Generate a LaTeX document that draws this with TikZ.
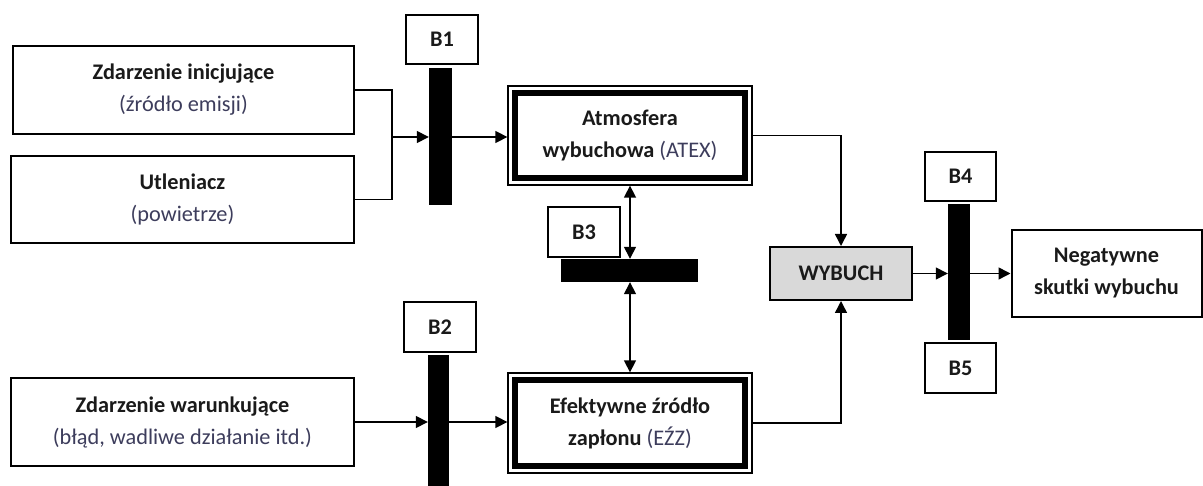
\documentclass[tikz,border=0pt]{standalone}
\usepackage{fontspec}
\setmainfont{Carlito}
\usetikzlibrary{arrows.meta}
\definecolor{ink}{HTML}{1A1A1A}
\definecolor{paren}{HTML}{3D3D5C}
\definecolor{wybfill}{HTML}{D9D9D9}
\newcommand{\pr}[1]{{\color{paren}\mdseries #1}}
\begin{document}
\begin{tikzpicture}[x=1pt,y=-1pt,
  txt/.style={font=\fontsize{22.3}{32}\selectfont\bfseries, text=ink, align=center},
  box/.style={txt, draw, line width=2pt, inner sep=0pt, fill=white},
  lab/.style={box},
  bar/.style={fill=black, draw=none, inner sep=0pt},
  dbox/.style={txt, draw, line width=1.3pt, inner sep=0pt, fill=white},
  conn/.style={line width=1.5pt},
  arr/.style={conn, -{Triangle[length=12pt,width=12pt]}},
  darr/.style={conn, {Triangle[length=12pt,width=12pt]}-{Triangle[length=12pt,width=12pt]}}
]
\useasboundingbox (0,0) rectangle (1203,486);
% left boxes
\node[box, minimum width=341pt, minimum height=88pt] (zi) at (183.5,90) {Zdarzenie inicjujące\\ \pr{(źródło emisji)}};
\node[box, minimum width=343pt, minimum height=87pt] (ut) at (182.5,199.5) {Utleniacz\\ \pr{(powietrze)}};
\node[box, minimum width=343pt, minimum height=88pt] (zw) at (182.5,422) {Zdarzenie warunkujące\\ \pr{(błąd, wadliwe działanie itd.)}};
% barriers
\node[lab, minimum width=72pt, minimum height=49pt] (b1lab) at (442,39.5) {B1};
\node[bar, minimum width=23pt, minimum height=137pt] (b1bar) at (440.5,136.5) {};
\node[lab, minimum width=72pt, minimum height=50pt] (b2lab) at (440,327) {B2};
\node[bar, minimum width=21pt, minimum height=140pt] (b2bar) at (438.5,425) {};
\node[lab, minimum width=72pt, minimum height=50pt] (b3lab) at (584,232) {B3};
\node[bar, minimum width=137pt, minimum height=23pt] (b3bar) at (629.5,270.5) {};
\node[lab, minimum width=71pt, minimum height=49pt] (b4lab) at (960.5,176.5) {B4};
\node[bar, minimum width=22pt, minimum height=136pt] (b45bar) at (959,272) {};
\node[lab, minimum width=71pt, minimum height=50pt] (b5lab) at (960.5,368) {B5};
% double boxes
\node[dbox, minimum width=244pt, minimum height=99pt] (atex) at (630,135.5) {Atmosfera\\ wybuchowa \pr{(ATEX)}};
\draw[line width=6pt] ([shift={(8,8)}]atex.north west) rectangle ([shift={(-8,-8)}]atex.south east);
\node[dbox, minimum width=244pt, minimum height=100pt] (ezz) at (630,423) {Efektywne źródło\\ zapłonu \pr{(EŹZ)}};
\draw[line width=6pt] ([shift={(8,8)}]ezz.north west) rectangle ([shift={(-8,-8)}]ezz.south east);
% explosion and consequences
\node[box, fill=wybfill, minimum width=142pt, minimum height=53pt] (wyb) at (841,273.5) {WYBUCH};
\node[box, minimum width=190pt, minimum height=87pt] (neg) at (1106.5,273.5) {Negatywne\\ skutki wybuchu};
% connectors
\coordinate (j1) at (392,137);
\draw[conn] (zi.east) -| (j1) |- (ut.east);
\draw[arr] (j1) -- (b1bar.west |- j1);
\draw[arr] (b1bar.east |- j1) -- (atex.west |- j1);
\draw[arr] (zw.east) -- (b2bar.west |- zw.east);
\draw[arr] (b2bar.east |- zw.east) -- (ezz.west |- zw.east);
\draw[darr] (atex.south) -- (atex.south |- b3bar.north);
\draw[darr] (atex.south |- b3bar.south) -- (ezz.north);
\draw[arr] (atex.east) -| (wyb.north);
\draw[arr] (ezz.east) -| (wyb.south);
\draw[arr] (wyb.east) -- (b45bar.west |- wyb.east);
\draw[arr] (b45bar.east |- wyb.east) -- (neg.west);
\end{tikzpicture}
\end{document}
